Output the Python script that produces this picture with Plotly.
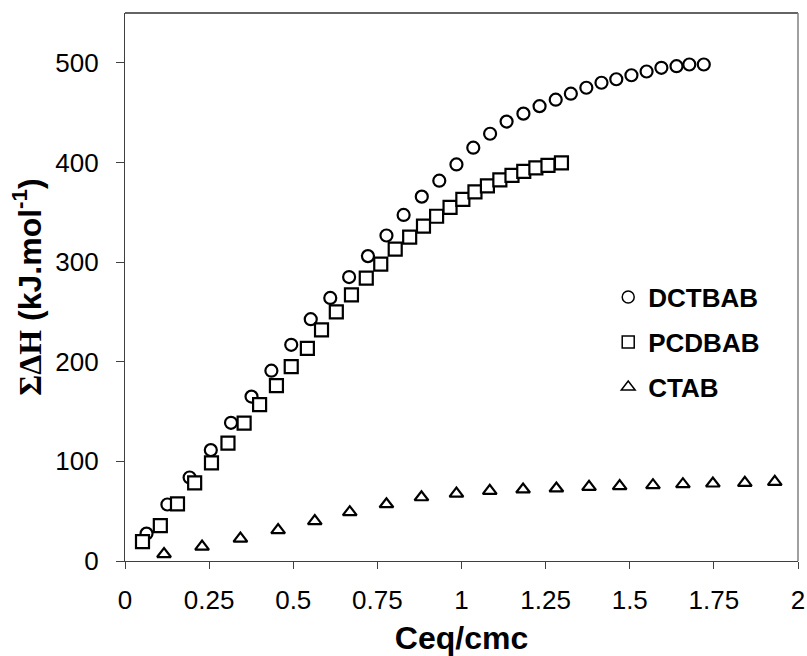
import plotly.graph_objects as go

# ---- data ----
dctbab_x = [0.064, 0.126, 0.192, 0.255, 0.315, 0.376, 0.435, 0.494, 0.552, 0.610,
            0.666, 0.722, 0.777, 0.828, 0.882, 0.934, 0.985, 1.035, 1.085, 1.134,
            1.184, 1.232, 1.280, 1.325, 1.371, 1.416, 1.460, 1.505, 1.550, 1.594,
            1.639, 1.677, 1.720]
dctbab_y = [27.5, 56.7, 83.8, 111.3, 138.7, 165, 191, 217, 242.7, 264,
            285, 306, 326.7, 347.3, 365.7, 381.7, 398, 414.8, 428.8, 441,
            449, 456.5, 463, 469, 475, 480, 483.5, 487.5, 491.3, 495,
            496.6, 498.3, 498.3]

pcdbab_x = [0.052, 0.105, 0.156, 0.207, 0.257, 0.306, 0.354, 0.400, 0.450, 0.494,
            0.542, 0.584, 0.628, 0.673, 0.717, 0.760, 0.803, 0.846, 0.887, 0.926,
            0.966, 1.004, 1.040, 1.077, 1.114, 1.150, 1.185, 1.221, 1.257, 1.297]
pcdbab_y = [19.5, 35.6, 57.3, 78.4, 98.5, 118.3, 138.4, 157, 176, 195,
            213.5, 232, 250, 267, 284, 298, 313, 325, 336, 346,
            355, 363, 370.5, 376.5, 382.5, 387, 391, 394.5, 397, 399.5]

ctab_x = [0.116, 0.229, 0.343, 0.455, 0.564, 0.668, 0.777, 0.881, 0.985, 1.084,
          1.183, 1.282, 1.379, 1.470, 1.569, 1.658, 1.747, 1.842, 1.931]
ctab_y = [7, 14.5, 22.5, 31, 40, 49, 57, 64, 67.7, 70.4,
          71.8, 72.8, 74.4, 75.1, 76.1, 77.1, 77.8, 78.4, 79.4]

series_names = ["DCTBAB", "PCDBAB", "CTAB"]
x_ticks = [0, 0.25, 0.5, 0.75, 1, 1.25, 1.5, 1.75, 2]
x_tick_labels = ["0", "0.25", "0.5", "0.75", "1", "1.25", "1.5", "1.75", "2"]
y_ticks = [0, 100, 200, 300, 400, 500]
y_tick_labels = ["0", "100", "200", "300", "400", "500"]

FONT = "Liberation Sans, Arial, sans-serif"
symbols = ["circle", "square", "triangle-up"]
sizes = [12, 13, 12]
legend_sizes = [12, 12, 12]
legends = ["legend", "legend2", "legend3"]

fig = go.Figure()
data = [(dctbab_x, dctbab_y), (pcdbab_x, pcdbab_y), (ctab_x, ctab_y)]
for (xs, ys), name, sym, sz in zip(data, series_names, symbols, sizes):
    fig.add_trace(go.Scatter(
        x=xs, y=ys, mode="markers", name=name, showlegend=False,
        marker=dict(symbol=sym, size=sz, color="white",
                    line=dict(color="black", width=2.2)),
        cliponaxis=False))

# legend-only entries (thinner outlines, like the reference legend)
for name, sym, lg, lsz in zip(series_names, symbols, legends, legend_sizes):
    fig.add_trace(go.Scatter(
        x=[None], y=[None], mode="markers", name=name, legend=lg,
        marker=dict(symbol=sym, size=lsz,
                    color="white", line=dict(color="black", width=1.5))))

leg_common = dict(x=0.718, xanchor="left", yanchor="middle",
                  bgcolor="rgba(0,0,0,0)", borderwidth=0,
                  font=dict(family=FONT, size=26, color="black", weight="bold"),
                  itemwidth=30)

fig.update_layout(
    width=807, height=656,
    margin=dict(l=125, r=9, t=13, b=95),
    paper_bgcolor="white", plot_bgcolor="white",
    font=dict(family=FONT, color="black"),
    legend=dict(y=0.4815, **leg_common),
    legend2=dict(y=0.3993, **leg_common),
    legend3=dict(y=0.3172, **leg_common),
    xaxis=dict(
        range=[0, 2], tickvals=x_ticks, ticktext=x_tick_labels,
        showgrid=False, zeroline=False,
        showline=True, linecolor="#404040", linewidth=1.3,
        ticks="outside", ticklen=7, tickwidth=1, tickcolor="#404040",
        tickfont=dict(family=FONT, size=26, color="black"),
        ticklabelstandoff=9,
        title=dict(text="<b>Ceq/cmc</b>", font=dict(family=FONT, size=32, color="black"),
                   standoff=13),
        automargin=False,
    ),
    yaxis=dict(
        range=[0, 550], tickvals=y_ticks, ticktext=y_tick_labels,
        showgrid=False, zeroline=False,
        showline=True, linecolor="#404040", linewidth=1.3,
        ticks="outside", ticklen=8, tickwidth=1, tickcolor="#404040",
        tickfont=dict(family=FONT, size=26, color="black"),
        ticklabelstandoff=12,
        title=dict(text="<b><span style=\"font-family:'Liberation Serif', 'Times New Roman', serif\">ΣΔH</span> (kJ.mol<sup>-1</sup>)</b>",
                   font=dict(family=FONT, size=32, color="black"),
                   standoff=4),
        automargin=False,
    ),
    shapes=[
        dict(type="line", xref="paper", yref="paper", x0=0, x1=1, y0=1, y1=1,
             line=dict(color="#303030", width=1.3)),
        dict(type="line", xref="paper", yref="paper", x0=1, x1=1, y0=0, y1=1,
             line=dict(color="#808080", width=1.5)),
    ],
)

fig.write_html("out.html")
